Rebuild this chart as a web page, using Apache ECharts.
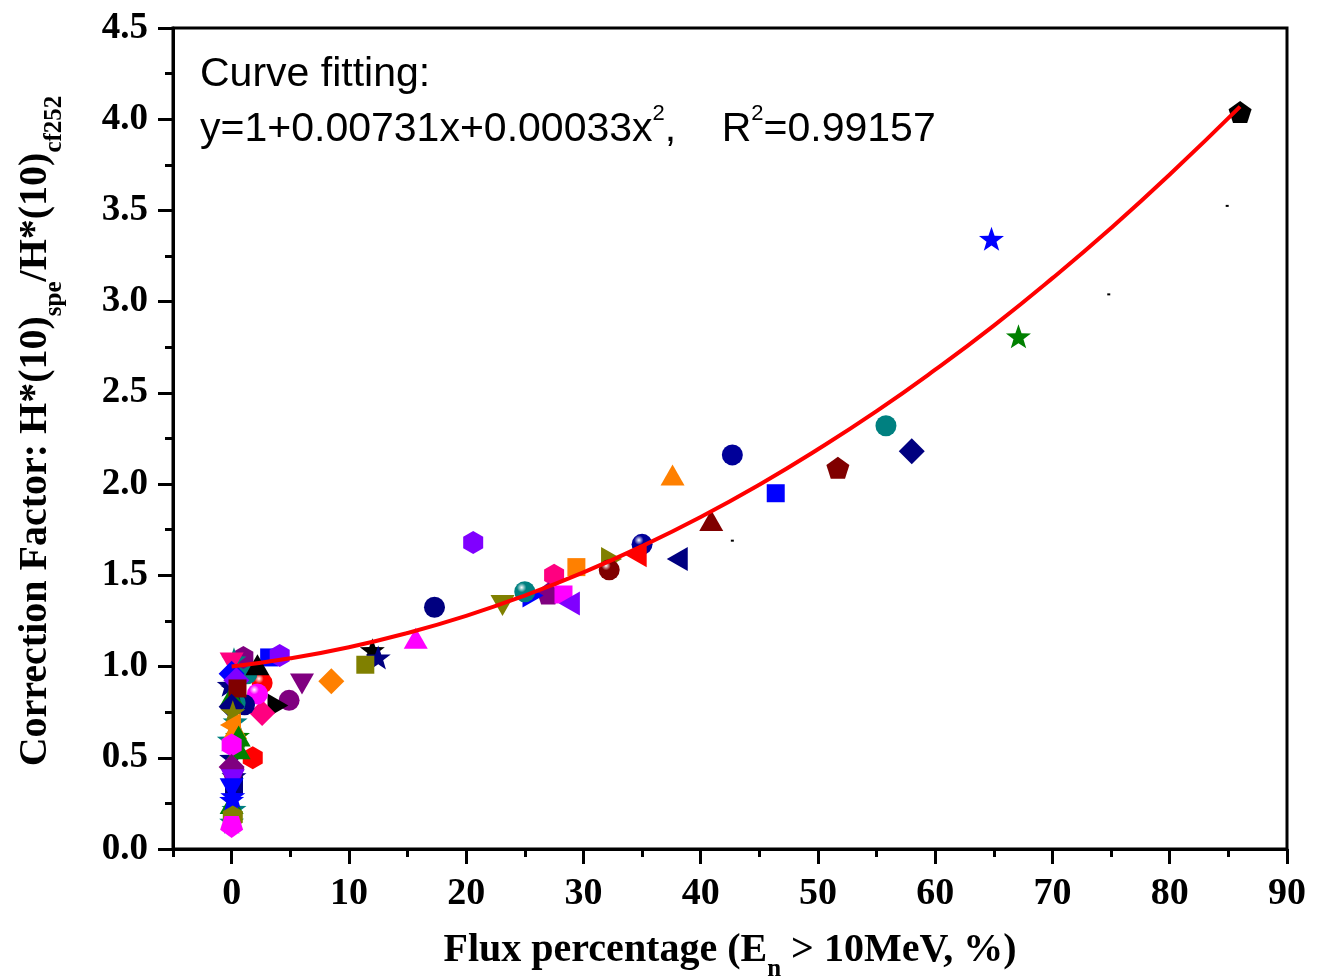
<!DOCTYPE html>
<html>
<head>
<meta charset="utf-8">
<script src="https://cdn.jsdelivr.net/npm/echarts@6/dist/echarts.min.js"></script>
<style>
  html, body { margin: 0; padding: 0; background: #fff; }
  #main { width: 1322px; height: 976px; }
</style>
</head>
<body>
<div id="main"></div>
<script>
// measured points: flux percentage (x) and correction factor (y)
var fluxPct = [
  86.0, 64.8, 67.1, 55.8, 58.0, 51.7, 46.4, 42.7, 37.6, 40.9,
  38.0, 35.0, 34.5, 32.4, 32.2, 29.4, 27.5, 27.0, 28.3, 28.8,
  25.7, 25.0, 23.1, 20.6, 17.3, 15.7, 12.0, 12.5, 11.4, 8.5,
  6.0, 4.9, 3.5, 2.6, 2.6, 2.2, 3.2, 4.1, 1.8, 1.3,
  1.1, 2.2, 1.0,
  // cluster at x ~ 0
  -0.2, 0.3, -0.2, 0.2, 0.0, 0.2, 0.0, 0.2, 0.3, 0.6,
  0.0, 0.5, 0.2, 0.0, 0.1, 0.0, 0.0, 0.4, 0.5, 0.0,
  0.1, -0.1, 0.3, 0.6, 0.0, 0.0, 0.1, 0.1, 0.0, 0.1,
  0.0, 0.1, 0.0,
  // stray dots
  84.9, 74.8, 42.7
];
var corrFactor = [
  4.04, 3.345, 2.81, 2.32, 2.18, 2.09, 1.95, 2.16, 2.05, 1.80,
  1.59, 1.67, 1.61, 1.59, 1.53, 1.545, 1.50, 1.40, 1.395, 1.345,
  1.39, 1.41, 1.335, 1.68, 1.325, 1.155, 1.09, 1.05, 1.01, 0.92,
  0.905, 0.815, 0.77, 0.745, 0.91, 0.85, 1.05, 1.06, 0.50, 0.96,
  0.79, 1.01, 1.05,
  0.90, 0.70, 0.60, 0.22, 0.25, 0.35, 0.50, 0.40, 0.80, 0.55,
  0.15, 0.62, 1.04, 1.02, 0.88, 0.96, 0.84, 0.925, 0.88, 0.78,
  0.75, 0.68, 0.66, 0.62, 0.57, 0.45, 0.43, 0.38, 0.33, 0.29,
  0.27, 0.175, 0.12,
  3.525, 3.04, 1.69
];
// marker shape and colour for each point (same order)
var markerShape = [
  'pent', 'star', 'star', 'circle', 'diamond', 'pent', 'square', 'circle', 'up', 'up',
  'left', 'sphere', 'left', 'right', 'sphere', 'square', 'hex', 'pent', 'square', 'left',
  'right', 'sphere', 'down', 'hex', 'circle', 'up', 'star', 'star', 'square', 'diamond',
  'down', 'circle', 'tilt', 'diamond', 'sphere', 'sphere', 'square', 'hex', 'hex', 'circle',
  'circle', 'up', 'hex',
  'star', 'star', 'star', 'star', 'up', 'square', 'star', 'star', 'circle', 'up',
  'star', 'star', 'star', 'down', 'star', 'diamond', 'up', 'diamond', 'square', 'diamond',
  'star', 'left', 'up', 'up', 'hex', 'diamond', 'pent', 'down', 'down', 'star',
  'star', 'hex', 'pentdown',
  'dot', 'dot', 'dot'
];
var markerColor = [
  '#000000', '#0000ff', '#008000', '#008080', '#000080', '#800000', '#0000ff', '#000099', '#ff8000', '#800000',
  '#000080', '#000099', '#ff0000', '#808000', '#800000', '#ff8000', '#ff0080', '#800080', '#ff00ff', '#8000ff',
  '#0000ff', '#008080', '#808000', '#8000ff', '#000080', '#ff00ff', '#000000', '#000080', '#808000', '#ff8000',
  '#800080', '#800080', '#000000', '#ff0080', '#ff0000', '#ff00ff', '#0000ff', '#8000ff', '#ff0000', '#008080',
  '#000080', '#000000', '#800080',
  '#000080', '#008080', '#008080', '#008080', '#008000', '#000080', '#000080', '#000080', '#008080', '#008000',
  '#008080', '#008000', '#008080', '#ff0080', '#000080', '#0000ff', '#008000', '#8000ff', '#800000', '#000080',
  '#808000', '#ff8000', '#ff8000', '#008000', '#ff00ff', '#800080', '#800080', '#8000ff', '#0000ff', '#0000ff',
  '#0000ff', '#808000', '#ff00ff',
  '#000000', '#000000', '#000000'
];

// fitted curve y = 1 + 0.00731x + 0.00033x^2
var fitX = [0, 5, 10, 15, 20, 25, 30, 35, 40, 45, 50, 55, 60, 65, 70, 75, 80, 86];
var fitY = [1.000, 1.045, 1.106, 1.184, 1.278, 1.389, 1.516, 1.660, 1.820, 1.997,
            2.191, 2.400, 2.627, 2.869, 3.129, 3.404, 3.697, 4.069];

var xMajorTicks = [0, 10, 20, 30, 40, 50, 60, 70, 80, 90];
var xMinorTicks = [-5, 5, 15, 25, 35, 45, 55, 65, 75, 85];

var STAR = 'path://M0,-10L2.35,-3.24L9.51,-3.09L3.8,1.24L5.88,8.09L0,4.2L-5.88,8.09L-3.8,1.24L-9.51,-3.09L-2.35,-3.24Z';
var PENT = 'path://M0,-10L9.51,-3.09L5.88,8.09L-5.88,8.09L-9.51,-3.09Z';
var HEX = 'path://M0,-10L8.66,-5L8.66,5L0,10L-8.66,5L-8.66,-5Z';

function sphereColor(c) {
  return {
    type: 'radial', x: 0.35, y: 0.3, r: 0.75,
    colorStops: [
      { offset: 0, color: '#ffffff' },
      { offset: 0.3, color: c },
      { offset: 1, color: c }
    ]
  };
}

function markerItem(i) {
  var s = markerShape[i];
  var c = markerColor[i];
  var it = { value: [fluxPct[i], corrFactor[i]], itemStyle: { color: c, opacity: 1 } };
  if (s === 'circle') { it.symbol = 'circle'; it.symbolSize = 21; }
  else if (s === 'sphere') { it.symbol = 'circle'; it.symbolSize = 21; it.itemStyle.color = sphereColor(c); }
  else if (s === 'square') { it.symbol = 'rect'; it.symbolSize = 18; }
  else if (s === 'up') { it.symbol = 'triangle'; it.symbolSize = [24, 21]; }
  else if (s === 'down') { it.symbol = 'triangle'; it.symbolSize = [24, 21]; it.symbolRotate = 180; }
  else if (s === 'left') { it.symbol = 'triangle'; it.symbolSize = [24, 21]; it.symbolRotate = 90; }
  else if (s === 'right') { it.symbol = 'triangle'; it.symbolSize = [24, 21]; it.symbolRotate = -90; }
  else if (s === 'tilt') { it.symbol = 'triangle'; it.symbolSize = [24, 21]; it.symbolRotate = 150; }
  else if (s === 'diamond') { it.symbol = 'diamond'; it.symbolSize = [26, 26]; }
  else if (s === 'star') { it.symbol = STAR; it.symbolSize = [25, 24]; }
  else if (s === 'pent') { it.symbol = PENT; it.symbolSize = [23, 22]; }
  else if (s === 'pentdown') { it.symbol = PENT; it.symbolSize = [23, 22]; it.symbolRotate = 180; }
  else if (s === 'hex') { it.symbol = HEX; it.symbolSize = [20, 23]; }
  else { it.symbol = 'rect'; it.symbolSize = [3, 2]; }
  return it;
}

var scatterData = [];
for (var i = 0; i < fluxPct.length; i++) {
  scatterData.push(markerItem(i));
}
var fitData = [];
for (var j = 0; j < fitX.length; j++) {
  fitData.push([fitX[j], fitY[j]]);
}

var serif = '"Liberation Serif", "Times New Roman", serif';
var sans = '"Liberation Sans", Arial, sans-serif';

// sub/superscripts: glyph sits at the bottom/top of a taller token box
var titleRich = {
  b: { fontFamily: serif, fontWeight: 'bold', fontSize: 40, color: '#000', fill: '#000', lineHeight: 40, verticalAlign: 'middle' },
  s: { fontFamily: serif, fontWeight: 'bold', fontSize: 25, color: '#000', fill: '#000', lineHeight: 62, verticalAlign: 'bottom' }
};

var myChart = echarts.init(document.getElementById('main'));
myChart.setOption({
  backgroundColor: '#ffffff',
  animation: false,
  grid: {
    left: 173,
    right: 35,
    top: 28,
    bottom: 127,
    containLabel: false,
    outerBoundsMode: 'none',
    show: true,
    borderColor: '#000',
    borderWidth: 3
  },
  xAxis: [
    {
      type: 'value',
      min: -5,
      max: 90,
      splitLine: { show: false },
      axisLine: { show: true, onZero: false, lineStyle: { color: '#000', width: 3 } },
      axisTick: { show: true, length: 15, customValues: xMajorTicks, lineStyle: { color: '#000', width: 3 } },
      axisLabel: {
        customValues: xMajorTicks,
        margin: 26,
        color: '#000',
        fontFamily: serif,
        fontWeight: 'bold',
        fontSize: 38
      },
      name: '{b|Flux percentage (E}{s|n}{b| > 10MeV, %)}',
      nameLocation: 'middle',
      nameGap: 71,
      nameTextStyle: { rich: titleRich }
    },
    {
      type: 'value',
      min: -5,
      max: 90,
      position: 'bottom',
      splitLine: { show: false },
      axisLine: { show: false },
      axisLabel: { show: false },
      axisTick: { show: true, length: 8, customValues: xMinorTicks, lineStyle: { color: '#000', width: 3 } }
    }
  ],
  yAxis: {
    type: 'value',
    min: 0,
    max: 4.5,
    interval: 0.5,
    splitLine: { show: false },
    axisLine: { show: true, onZero: false, lineStyle: { color: '#000', width: 3 } },
    axisTick: { show: true, length: 15, lineStyle: { color: '#000', width: 3 } },
    minorTick: { show: true, splitNumber: 2, length: 8, lineStyle: { color: '#000', width: 3 } },
    axisLabel: {
      margin: 25,
      color: '#000',
      fontFamily: serif,
      fontWeight: 'bold',
      fontSize: 37,
      formatter: function (v) { return v.toFixed(1); }
    }
  },
  graphic: [
    {
      type: 'text',
      x: 36,
      y: 431,
      rotation: Math.PI / 2,
      style: {
        text: '{b|Correction Factor: H*(10)}{s|spe}{b|/H*(10)}{s|cf252}',
        align: 'center',
        verticalAlign: 'middle',
        rich: titleRich
      }
    },
    {
      type: 'text',
      left: 200,
      top: 54,
      style: {
        text: 'Curve fitting:',
        font: '41px ' + sans,
        fill: '#000'
      }
    },
    {
      type: 'text',
      left: 200,
      top: 103,
      style: {
        text: '{m|y=1+0.00731x+0.00033x}{p|2}{m|,    R}{p|2}{m|=0.99157}',
        rich: {
          m: { fontFamily: sans, fontSize: 41, fill: '#000', lineHeight: 41, verticalAlign: 'middle' },
          p: { fontFamily: sans, fontSize: 22, fill: '#000', lineHeight: 54, verticalAlign: 'top' }
        }
      }
    }
  ],
  series: [
    {
      name: 'data',
      type: 'scatter',
      data: scatterData,
      z: 2
    },
    {
      name: 'fit',
      type: 'line',
      data: fitData,
      smooth: true,
      showSymbol: false,
      symbol: 'none',
      lineStyle: { color: '#ff0000', width: 4 },
      z: 5
    }
  ]
});
</script>
</body>
</html>
